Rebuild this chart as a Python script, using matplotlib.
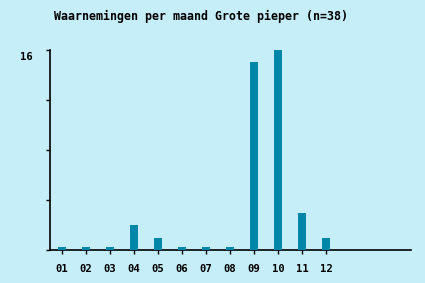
import numpy as np
import matplotlib
matplotlib.use('Agg')
import matplotlib.pyplot as plt
import matplotlib.transforms as mtransforms

# Waarnemingen per maand
maanden = ['01', '02', '03', '04', '05', '06', '07', '08', '09', '10', '11', '12']
aantallen = [0, 0, 0, 2, 1, 0, 0, 0, 15, 16, 3, 1]

achtergrond = '#c6eef8'
balkkleur = '#0086a8'

fig = plt.figure(figsize=(4.25, 2.83), dpi=100, facecolor=achtergrond)
ax = fig.add_axes([50 / 425, 33 / 283, 361 / 425, 200 / 283], facecolor=achtergrond)

x = np.arange(1, len(maanden) + 1)
# lege maanden krijgen een klein streepje, zoals in het origineel
hoogtes = np.maximum(np.array(aantallen, dtype=float), 0.22)
ax.bar(x, hoogtes, width=0.36, color=balkkleur, zorder=3)

ax.set_xlim(0.5, 15.54)
ax.set_ylim(0, 16)

ax.set_xticks(x)
ax.set_xticklabels(maanden, family='DejaVu Sans Mono', fontweight='bold', fontsize=7.6)
ax.set_yticks([0, 4, 8, 12, 16])
ax.set_yticklabels(['', '', '', '', '16'], family='DejaVu Sans Mono', fontweight='bold', fontsize=7.6)
ax.tick_params(axis='x', length=3, width=1, pad=7)
ax.tick_params(axis='y', length=3, width=1, pad=9.5)

# label "16" staat iets onder de bovenkant van de as
verschuiving = mtransforms.ScaledTranslation(0, -6 / 100, fig.dpi_scale_trans)
for lab in ax.get_yticklabels():
    lab.set_transform(lab.get_transform() + verschuiving)

for kant in ['top', 'right']:
    ax.spines[kant].set_visible(False)
ax.spines['left'].set_linewidth(1.2)
ax.spines['bottom'].set_linewidth(1.2)
ax.spines['bottom'].set_zorder(2)

fig.text(201 / 425, 1 - 16 / 283, 'Waarnemingen per maand Grote pieper (n=38)',
         ha='center', va='center', family='DejaVu Sans Mono', fontweight='bold', fontsize=8.4)

fig.savefig('out.png', dpi=100, facecolor=achtergrond)
